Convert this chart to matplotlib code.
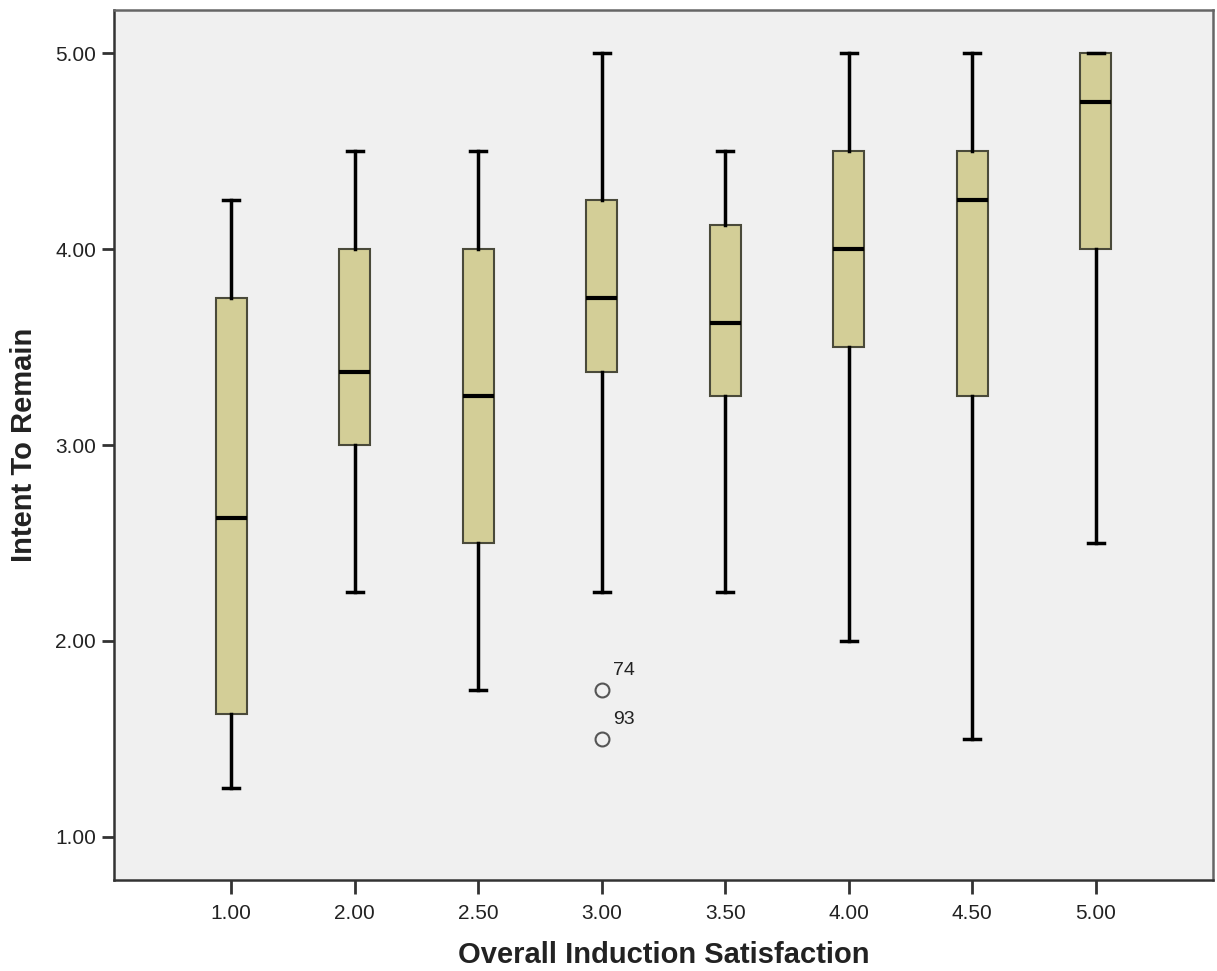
import matplotlib
matplotlib.use("Agg")
import matplotlib.pyplot as plt

categories = ["1.00", "2.00", "2.50", "3.00", "3.50", "4.00", "4.50", "5.00"]
whislo = [1.25, 2.25, 1.75, 2.25, 2.25, 2.00, 1.50, 2.50]
q1     = [1.625, 3.00, 2.50, 3.375, 3.25, 3.50, 3.25, 4.00]
med    = [2.625, 3.375, 3.25, 3.75, 3.625, 4.00, 4.25, 4.75]
q3     = [3.75, 4.00, 4.00, 4.25, 4.125, 4.50, 4.50, 5.00]
whishi = [4.25, 4.50, 4.50, 5.00, 4.50, 5.00, 5.00, 5.00]
outlier_values = [[], [], [], [1.75, 1.50], [], [], [], []]
outlier_labels = [[], [], [], ["74", "93"], [], [], [], []]

x_label = "Overall Induction Satisfaction"
y_label = "Intent To Remain"
y_ticks = [1.0, 2.0, 3.0, 4.0, 5.0]

plt.rcParams['font.family'] = ['Liberation Sans', 'DejaVu Sans']

fig = plt.figure(figsize=(12.17, 9.71), dpi=100)
ax = fig.add_axes([114/1217, 1-880/971, (1213-114)/1217, (880-10)/971])
ax.set_facecolor("#F0F0F0")

stats = []
for i, c in enumerate(categories):
    stats.append(dict(label=c, whislo=whislo[i], q1=q1[i], med=med[i], q3=q3[i],
                      whishi=whishi[i], fliers=outlier_values[i]))

positions = list(range(1, len(categories) + 1))
ax.bxp(stats, positions=positions, widths=0.25, patch_artist=True,
       boxprops=dict(facecolor="#D3CE97", edgecolor="#4a4a3a", linewidth=1.5),
       medianprops=dict(color="black", linewidth=3),
       whiskerprops=dict(color="black", linewidth=2.5),
       capprops=dict(color="black", linewidth=2.5),
       capwidths=0.13,
       flierprops=dict(marker="o", markerfacecolor="none", markeredgecolor="#555555",
                       markersize=10, markeredgewidth=1.5))

for i, (vals, labs) in enumerate(zip(outlier_values, outlier_labels)):
    for v, lab in zip(vals, labs):
        ax.annotate(lab, xy=(positions[i], v), xytext=(8, 14), textcoords="offset points",
                    fontsize=14, color="#222222", ha="left", va="center")

ax.set_xlim(0.052, 8.95)
ax.set_ylim(0.78, 5.22)
ax.set_yticks(y_ticks)
ax.set_yticklabels([f"{t:.2f}" for t in y_ticks])
ax.set_xticks(positions)
ax.set_xticklabels(categories)
ax.tick_params(axis="both", length=9, width=2, color="#333333", labelsize=15,
               labelcolor="#222222", pad=4)
ax.tick_params(axis="x", length=10, pad=7)
for s in ax.spines.values():
    s.set_color("#333333")
    s.set_linewidth(1.8)
ax.spines["top"].set_color("#666666")
ax.spines["right"].set_color("#666666")

ax.set_xlabel(x_label, fontsize=21, fontweight="bold", color="#222222", labelpad=13)
ax.set_ylabel(y_label, fontsize=21, fontweight="bold", color="#222222", labelpad=12)

fig.savefig("out.png", dpi=100, facecolor="white")
